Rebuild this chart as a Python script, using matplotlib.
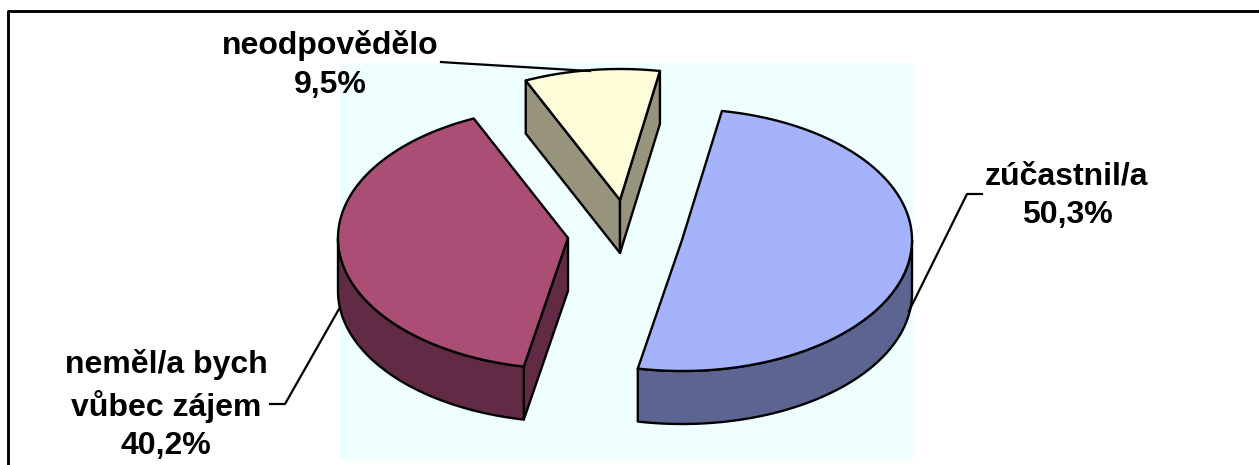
import matplotlib
matplotlib.use('Agg')
import matplotlib.pyplot as plt
import numpy as np
from matplotlib.patches import Polygon, Rectangle

# data
labels = ['zúčastnil/a', 'neměl/a bych\nvůbec zájem', 'neodpovědělo']
values = [50.3, 40.2, 9.5]

# styles
top_colors = ['#A4B3FB', '#AB4E76', '#FFFCDA']
side_colors = ['#5C6592', '#622B45', '#98937C']
centers = [(682, 240), (568, 238), (620, 200)]
label_pos = [(1067, 196), (166, 405), (330, 65)]
leaders = [[(982, 194), (967, 194), (909, 311)],
           [(270, 404), (285, 404), (339, 309)],
           [(441, 62), (456, 63), (590, 71)]]
rx, ry, depth = 230, 131, 53
start = 10.0  # stupne, po smeru hodin od vrsku
line_w = 1.7


def point(c, deg, dy=0):
    t = np.radians(deg)
    return c[0] + rx * np.sin(t), c[1] - ry * np.cos(t) + dy


def draw_face(ax, c, a, side, z):
    px, py = point(c, a)
    face = [c, (px, py), (px, py + depth), (c[0], c[1] + depth)]
    ax.add_patch(Polygon(face, fc=side, ec='black', lw=line_w, zorder=z, joinstyle='round'))


def draw_slice(ax, c, a1, a2, top, side, z):
    arc = np.linspace(a1, a2, 200)
    x, y = point(c, arc)

    # rezy dolu, jen ty co jsou videt
    if np.sin(np.radians(a1)) < 0:
        draw_face(ax, c, a1, side, z)
    if np.sin(np.radians(a2)) > 0:
        draw_face(ax, c, a2, side, z)

    # bocni plast, jen spodni cast elipsy
    lo, hi = max(a1, 90), min(a2, 270)
    if lo < hi:
        rim = np.linspace(lo, hi, 200)
        rx1, ry1 = point(c, rim)
        pts = np.r_[np.c_[rx1, ry1], np.c_[rx1, ry1 + depth][::-1]]
        ax.add_patch(Polygon(pts, fc=side, ec='black', lw=line_w, zorder=z + 1, joinstyle='round'))

    pts = np.r_[[c], np.c_[x, y]]
    ax.add_patch(Polygon(pts, fc=top, ec='black', lw=line_w, zorder=z + 2, joinstyle='round'))


def main():
    plt.rcParams['font.family'] = ['Liberation Sans', 'DejaVu Sans']
    fig = plt.figure(figsize=(12.59, 4.65), dpi=100)
    ax = fig.add_axes([0, 0, 1, 1])
    ax.set_xlim(0, 1259)
    ax.set_ylim(465, 0)
    ax.axis('off')

    # ramecek a pozadi
    ax.add_patch(Rectangle((340, 63), 573, 397, fc='#EFFFFF', ec='none', zorder=1))
    ax.plot([8, 8, 1259], [465, 11.5, 11.5], color='black', lw=2.1, zorder=2)

    angles = start + np.r_[0, np.cumsum(values)] * 3.6
    order = [2, 1, 0]
    for n, i in enumerate(order):
        draw_slice(ax, centers[i], angles[i], angles[i + 1], top_colors[i], side_colors[i], 3 + n * 3)

    for i in range(len(values)):
        xs, ys = zip(*leaders[i])
        ax.plot(xs, ys, color='black', lw=1.6, zorder=20)
        txt = labels[i] + '\n' + f'{values[i]:.1f}'.replace('.', ',') + '%'
        ax.text(label_pos[i][0], label_pos[i][1], txt, ha='center', va='center',
                fontsize=23, fontweight='bold', linespacing=1.38, zorder=21)

    fig.savefig('out.png', dpi=100)


if __name__ == '__main__':
    main()
